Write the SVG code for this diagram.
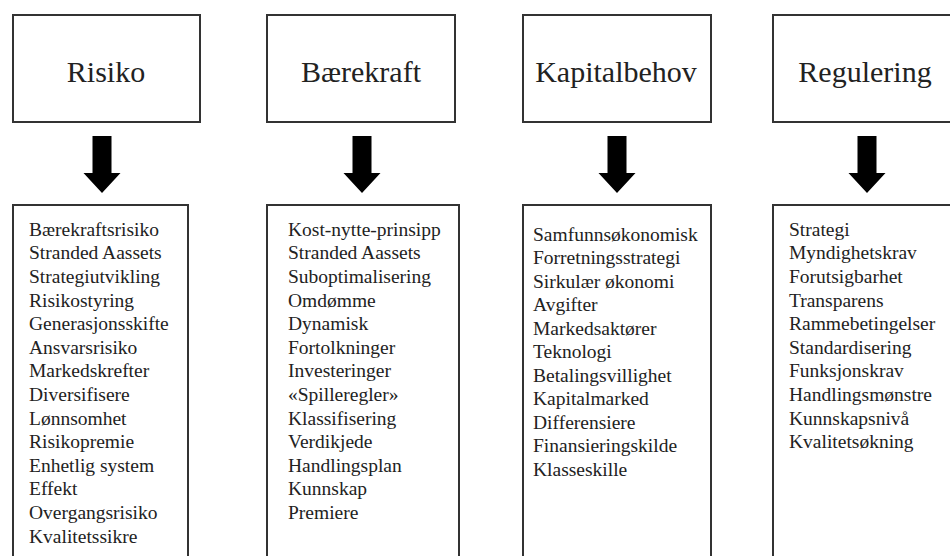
<svg xmlns="http://www.w3.org/2000/svg" width="950" height="556" viewBox="0 0 950 556">
<style>
.box{fill:#fff;stroke:#333;stroke-width:2}
.title{font-family:"Liberation Serif","Times New Roman",serif;font-size:30px;fill:#222;text-anchor:middle}
.item{font-family:"Liberation Serif","Times New Roman",serif;font-size:19.5px;fill:#222}
.arrow{fill:#000}
</style>
<defs>
<path id="arr" d="M-9.5,0 H9.5 V37 H18.5 L0,57 L-18.5,37 H-9.5 Z"/>
</defs>
<rect width="950" height="556" fill="#fff"/>
<g id="risiko-head"><rect class="box" x="13" y="15" width="187" height="107"/><text class="title" x="106" y="82">Risiko</text></g>
<g id="baerekraft-head"><rect class="box" x="267" y="15" width="188" height="107"/><text class="title" x="361" y="82">Bærekraft</text></g>
<g id="kapital-head"><rect class="box" x="523" y="15" width="188" height="107"/><text class="title" x="616" y="82">Kapitalbehov</text></g>
<g id="regulering-head"><rect class="box" x="773" y="15" width="190" height="107"/><text class="title" x="865" y="82">Regulering</text></g>
<g id="connectors">
<use href="#arr" class="arrow" x="102" y="136"/>
<use href="#arr" class="arrow" x="362" y="136"/>
<use href="#arr" class="arrow" x="617" y="136"/>
<use href="#arr" class="arrow" x="867" y="136"/>
</g>
<g id="risiko-list"><rect class="box" x="13" y="205" width="175" height="360"/>
<text class="item" x="29" y="235.7">Bærekraftsrisiko</text>
<text class="item" x="29" y="259.3">Stranded Aassets</text>
<text class="item" x="29" y="282.9">Strategiutvikling</text>
<text class="item" x="29" y="306.5">Risikostyring</text>
<text class="item" x="29" y="330.1">Generasjonsskifte</text>
<text class="item" x="29" y="353.7">Ansvarsrisiko</text>
<text class="item" x="29" y="377.3">Markedskrefter</text>
<text class="item" x="29" y="400.9">Diversifisere</text>
<text class="item" x="29" y="424.5">Lønnsomhet</text>
<text class="item" x="29" y="448.1">Risikopremie</text>
<text class="item" x="29" y="471.7">Enhetlig system</text>
<text class="item" x="29" y="495.3">Effekt</text>
<text class="item" x="29" y="518.9">Overgangsrisiko</text>
<text class="item" x="29" y="542.5">Kvalitetssikre</text>
</g>
<g id="baerekraft-list"><rect class="box" x="267" y="205" width="192" height="360"/>
<text class="item" x="288" y="235.7">Kost-nytte-prinsipp</text>
<text class="item" x="288" y="259.3">Stranded Aassets</text>
<text class="item" x="288" y="282.9">Suboptimalisering</text>
<text class="item" x="288" y="306.5">Omdømme</text>
<text class="item" x="288" y="330.1">Dynamisk</text>
<text class="item" x="288" y="353.7">Fortolkninger</text>
<text class="item" x="288" y="377.3">Investeringer</text>
<text class="item" x="288" y="400.9">«Spilleregler»</text>
<text class="item" x="288" y="424.5">Klassifisering</text>
<text class="item" x="288" y="448.1">Verdikjede</text>
<text class="item" x="288" y="471.7">Handlingsplan</text>
<text class="item" x="288" y="495.3">Kunnskap</text>
<text class="item" x="288" y="518.9">Premiere</text>
</g>
<g id="kapital-list"><rect class="box" x="523" y="205" width="188" height="360"/>
<text class="item" x="533" y="240.7">Samfunnsøkonomisk</text>
<text class="item" x="533" y="264.2">Forretningsstrategi</text>
<text class="item" x="533" y="287.7">Sirkulær økonomi</text>
<text class="item" x="533" y="311.2">Avgifter</text>
<text class="item" x="533" y="334.7">Markedsaktører</text>
<text class="item" x="533" y="358.2">Teknologi</text>
<text class="item" x="533" y="381.7">Betalingsvillighet</text>
<text class="item" x="533" y="405.2">Kapitalmarked</text>
<text class="item" x="533" y="428.7">Differensiere</text>
<text class="item" x="533" y="452.2">Finansieringskilde</text>
<text class="item" x="533" y="475.7">Klasseskille</text>
</g>
<g id="regulering-list"><rect class="box" x="773" y="205" width="190" height="360"/>
<text class="item" x="789" y="235.7">Strategi</text>
<text class="item" x="789" y="259.3">Myndighetskrav</text>
<text class="item" x="789" y="282.9">Forutsigbarhet</text>
<text class="item" x="789" y="306.5">Transparens</text>
<text class="item" x="789" y="330.1">Rammebetingelser</text>
<text class="item" x="789" y="353.7">Standardisering</text>
<text class="item" x="789" y="377.3">Funksjonskrav</text>
<text class="item" x="789" y="400.9">Handlingsmønstre</text>
<text class="item" x="789" y="424.5">Kunnskapsnivå</text>
<text class="item" x="789" y="448.1">Kvalitetsøkning</text>
</g>
</svg>
